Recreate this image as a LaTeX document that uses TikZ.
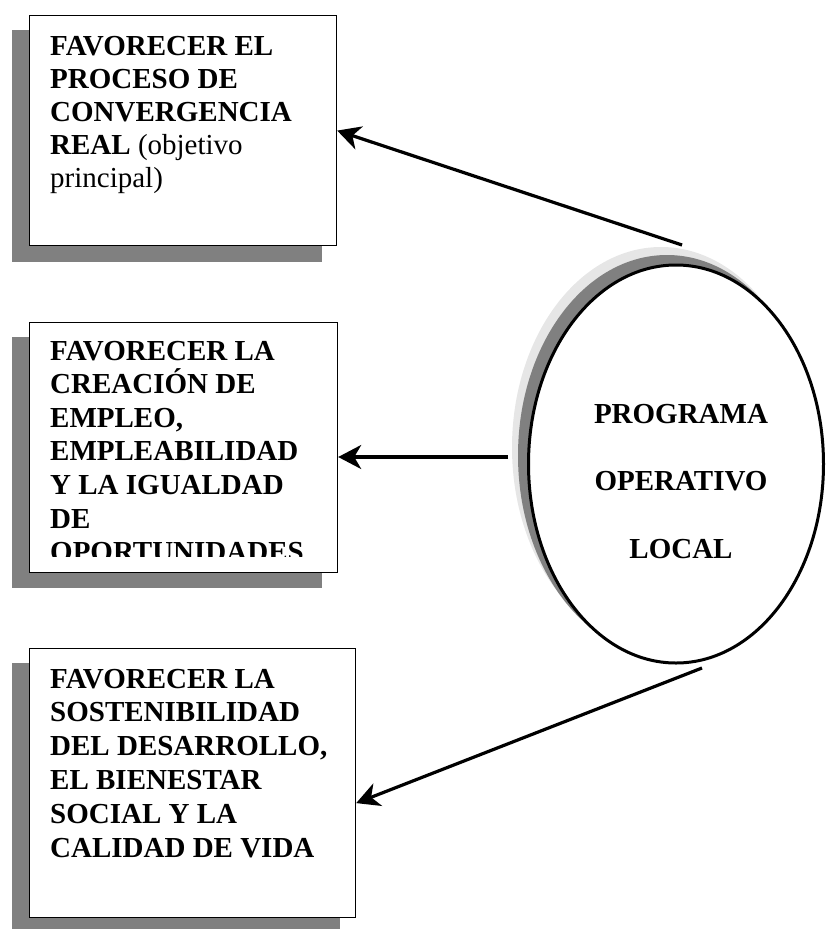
\documentclass[tikz,border=0pt]{standalone}
\usepackage{fontspec}
\setmainfont{Liberation Serif}
\usetikzlibrary{arrows.meta,calc,shapes.geometric}
\definecolor{shadowgray}{RGB}{128,128,128}
\definecolor{lightshadow}{RGB}{230,230,230}
\begin{document}
\begin{tikzpicture}[x=1pt,y=-1pt,
  boxframe/.style={draw=black, line width=1.2pt, fill=white, inner sep=0pt, anchor=north west},
  boxshadow/.style={fill=shadowgray, draw=none},
  boxtext/.style={anchor=base west, inner sep=0pt},
  arrowline/.style={line width=3.2pt, -{Stealth[length=23pt,width=24pt,inset=7pt]}},
  ellshadow/.style={ellipse, minimum width=298pt, minimum height=401pt, inner sep=0pt, draw=none},
]
\useasboundingbox (0,0) rectangle (826,929);

% box shadows
\fill[boxshadow] (12,30) rectangle (322,262);
\fill[boxshadow] (12,337) rectangle (322,588);
\fill[boxshadow] (12,663) rectangle (340,935);

% boxes
\node[boxframe, minimum width=307pt, minimum height=230pt] (box1) at (29,15) {};
\node[boxframe, minimum width=308pt, minimum height=250pt] (box2) at (29,322) {};
\node[boxframe, minimum width=326pt, minimum height=269pt] (box3) at (29,648) {};

% box texts
\node[boxtext] (txt1) at (50,55) {\parbox[t]{285pt}{\raggedright\fontsize{29}{33.1}\selectfont\bfseries
FAVORECER EL\\PROCESO DE\\CONVERGENCIA\\REAL \mdseries(objetivo\\principal)}};

\begin{scope}
\clip (box2.north west) rectangle ($(box2.south east)+(0,-17)$);
\node[boxtext] (txt2) at (50,360) {\parbox[t]{285pt}{\raggedright\fontsize{29}{33.6}\selectfont\bfseries
FAVORECER LA\\CREACIÓN DE\\EMPLEO,\\EMPLEABILIDAD\\Y LA IGUALDAD\\DE\\OPORTUNIDADES}};
\end{scope}

\node[boxtext] (txt3) at (50,688) {\parbox[t]{300pt}{\raggedright\fontsize{29}{33.8}\selectfont\bfseries
FAVORECER LA\\SOSTENIBILIDAD\\DEL DESARROLLO,\\EL BIENESTAR\\SOCIAL Y LA\\CALIDAD DE VIDA}};

% ellipse with shadows
\node[ellshadow, fill=lightshadow] (shL) at (661,447.5) {};
\node[ellshadow, fill=shadowgray] (shD) at (667,455.5) {};
\node[ellipse, minimum width=295pt, minimum height=398pt, inner sep=0pt, draw=black, line width=3pt, fill=white] (prog) at (676,464) {};
\node[anchor=base, inner sep=0pt] (progtxt) at (681,423) {\parbox[t]{260pt}{\centering\fontsize{29}{67.5}\selectfont\bfseries
PROGRAMA\\OPERATIVO\\LOCAL}};

% connectors
\coordinate (t1) at (682,245);
\coordinate (t2) at (508,457);
\coordinate (t3) at (702,668);
\draw[arrowline] (t1) -- (box1.east);
\draw[arrowline] (t2) -- (t2 -| box2.east);
\draw[arrowline] (t3) -- ($(box3.east)+(0,20)$);
\end{tikzpicture}
\end{document}
